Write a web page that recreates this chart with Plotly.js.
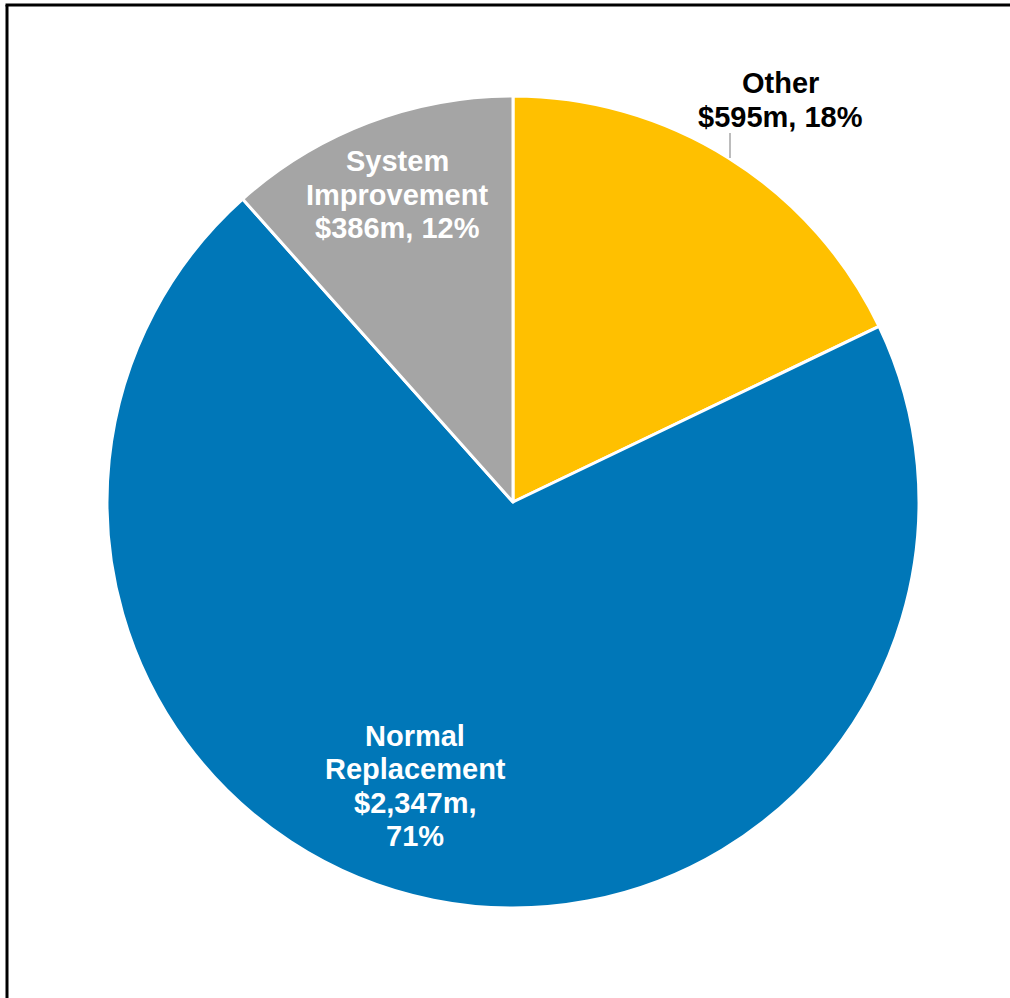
<!DOCTYPE html>
<html>
<head>
<meta charset="utf-8">
<script src="https://cdn.plot.ly/plotly-3.0.1.min.js"></script>
<style>
html, body { margin: 0; padding: 0; background: #fff; }
#chart { width: 1010px; height: 998px; }
</style>
</head>
<body>
<div id="chart"></div>
<script>
// Data
const categories = ["Other", "Normal Replacement", "System Improvement"];
const values = [595, 2347, 386];
const valueLabels = ["$595m", "$2,347m", "$386m"];
const percentLabels = ["18%", "71%", "12%"];
const colors = ["#FFC000", "#0077B8", "#A5A5A5"];

// Label lines built from data
const labelLines = [
  [categories[0], valueLabels[0] + ", " + percentLabels[0]],
  ["Normal", "Replacement", valueLabels[1] + ",", percentLabels[1]],
  ["System", "Improvement", valueLabels[2] + ", " + percentLabels[2]]
];

const W = 1010, H = 998;
const cx = 513, cy = 502, R = 406;

const trace = {
  type: "pie",
  labels: categories,
  values: values,
  sort: false,
  direction: "clockwise",
  rotation: 0,
  marker: { colors: colors, line: { color: "#FFFFFF", width: 3 } },
  textinfo: "none",
  hoverinfo: "label+value+percent",
  showlegend: false,
  domain: {
    x: [(cx - R) / W, (cx + R) / W],
    y: [(H - cy - R) / H, (H - cy + R) / H]
  }
};

const fontBase = { family: "Liberation Sans, Arial, sans-serif", size: 29, weight: "bold" };
const lineStep = 33.5;

const labelPos = [
  { x: 780, y: 100, color: "#000000" },
  { x: 415, y: 786, color: "#FFFFFF" },
  { x: 397, y: 194.5, color: "#FFFFFF" }
];

const annotations = [];
labelLines.forEach((lines, i) => {
  const n = lines.length;
  lines.forEach((t, j) => {
    const py = labelPos[i].y + (j - (n - 1) / 2) * lineStep;
    annotations.push({
      text: t,
      xref: "paper", yref: "paper",
      x: labelPos[i].x / W, y: 1 - py / H,
      xanchor: "center", yanchor: "middle",
      showarrow: false,
      align: "center",
      font: Object.assign({}, fontBase, { color: labelPos[i].color })
    });
  });
});

const layout = {
  width: W, height: H,
  margin: { l: 0, r: 0, t: 0, b: 0 },
  paper_bgcolor: "#FFFFFF",
  plot_bgcolor: "#FFFFFF",
  annotations: annotations,
  shapes: [
    { type: "line", xref: "paper", yref: "paper", x0: 7 / W, x1: 7 / W, y0: 0, y1: 1 - 5 / H, line: { color: "#000", width: 3 } },
    { type: "line", xref: "paper", yref: "paper", x0: 5.5 / W, x1: 1, y0: 1 - 5 / H, y1: 1 - 5 / H, line: { color: "#000", width: 3 } },
    { type: "line", xref: "paper", yref: "paper", x0: 730 / W, x1: 730 / W, y0: 1 - 133 / H, y1: 1 - 158 / H, line: { color: "#A6A6A6", width: 1.5 } }
  ]
};

Plotly.newPlot("chart", [trace], layout, { displayModeBar: false, staticPlot: true });
</script>
</body>
</html>
